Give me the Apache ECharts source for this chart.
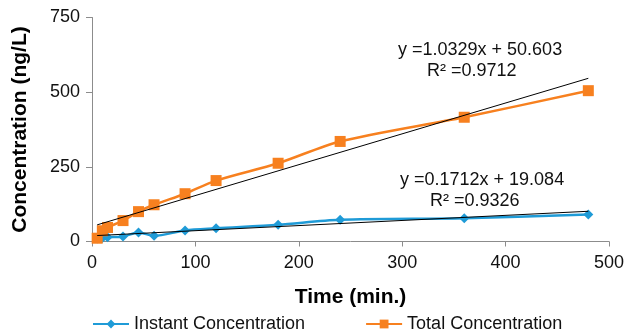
<!DOCTYPE html>
<html>
<head>
<meta charset="utf-8">
<script src="https://cdn.jsdelivr.net/npm/echarts@6/dist/echarts.min.js"></script>
<style>
  html, body { margin: 0; padding: 0; background: #fff; }
  #chart { width: 628px; height: 336px; }
</style>
</head>
<body>
<div id="chart"></div>
<script>
// time points (min.)
const times = [5, 10, 15, 30, 45, 60, 90, 120, 180, 240, 360, 480];
const instant = [10, 12, 14, 17, 30, 19, 37, 44, 56, 73, 78, 90];
const total = [11, 36, 47, 70, 100, 123, 160, 204, 262, 335, 416, 505];

// linear trendline coefficients as printed on the chart
const instantFit = { slope: 0.1712, intercept: 19.084, r2: '0.9326' };
const totalFit = { slope: 1.0329, intercept: 50.603, r2: '0.9712' };
const fitRange = [5, 480];

const yTicks = [0, 250, 500, 750];
const xTicks = [0, 100, 200, 300, 400, 500];

const fitLine = f => fitRange.map(x => [x, f.slope * x + f.intercept]);

const chart = echarts.init(document.getElementById('chart'));
const font = 'Liberation Sans, Arial, sans-serif';
const axisGray = '#8c8c8c';

chart.setOption({
  animation: false,
  textStyle: { fontFamily: font },
  grid: { left: 92, right: 19, top: 17.5, bottom: 94.5 },
  legend: {
    data: ['Instant Concentration', 'Total Concentration'],
    top: 310,
    left: 87,
    itemGap: 60,
    itemWidth: 36,
    itemHeight: 11,
    textStyle: { fontSize: 18, color: '#111', fontFamily: font }
  },
  xAxis: {
    type: 'value',
    min: 0,
    max: 500,
    interval: 100,
    name: 'Time (min.)',
    nameLocation: 'middle',
    nameGap: 45,
    nameTextStyle: { fontSize: 21, fontWeight: 'bold', color: '#000', fontFamily: font },
    axisLine: { lineStyle: { color: axisGray, width: 1 } },
    axisTick: { show: true, length: 5, lineStyle: { color: axisGray } },
    axisLabel: { fontSize: 18, color: '#111', margin: 13, formatter: v => xTicks.includes(v) ? v : '' },
    splitLine: { show: false }
  },
  yAxis: {
    type: 'value',
    min: 0,
    max: 750,
    interval: 250,
    name: 'Concentration (ng/L)',
    nameLocation: 'middle',
    nameGap: 61,
    nameTextStyle: { fontSize: 21, fontWeight: 'bold', color: '#000', fontFamily: font },
    axisLine: { show: true, lineStyle: { color: axisGray, width: 1 } },
    axisTick: { show: true, length: 6, lineStyle: { color: axisGray } },
    axisLabel: { fontSize: 18, color: '#111', margin: 12, formatter: v => yTicks.includes(v) ? v : '' },
    splitLine: { show: false }
  },
  series: [
    {
      name: 'Instant Concentration',
      type: 'line',
      smooth: 0.3,
      data: times.map((t, i) => [t, instant[i]]),
      symbol: 'diamond',
      symbolSize: 10,
      lineStyle: { color: '#1f9bd7', width: 2.5 },
      itemStyle: { color: '#1f9bd7' },
      z: 2
    },
    {
      name: 'Total Concentration',
      type: 'line',
      smooth: 0.3,
      data: times.map((t, i) => [t, total[i]]),
      symbol: 'rect',
      symbolSize: 11,
      lineStyle: { color: '#f7801f', width: 2.5 },
      itemStyle: { color: '#f7801f' },
      z: 3
    },
    {
      name: 'Instant fit',
      type: 'line',
      data: fitLine(instantFit),
      symbol: 'none',
      lineStyle: { color: '#000', width: 1 },
      silent: true,
      z: 4
    },
    {
      name: 'Total fit',
      type: 'line',
      data: fitLine(totalFit),
      symbol: 'none',
      lineStyle: { color: '#000', width: 1 },
      silent: true,
      z: 4
    }
  ],
  graphic: [
    { type: 'text', left: 398, top: 41, style: { text: 'y =' + totalFit.slope + 'x + ' + totalFit.intercept, font: '18px ' + font, fill: '#111' } },
    { type: 'text', left: 427, top: 62, style: { text: 'R² =' + totalFit.r2, font: '18px ' + font, fill: '#111' } },
    { type: 'text', left: 400, top: 171, style: { text: 'y =' + instantFit.slope + 'x + ' + instantFit.intercept, font: '18px ' + font, fill: '#111' } },
    { type: 'text', left: 430, top: 192, style: { text: 'R² =' + instantFit.r2, font: '18px ' + font, fill: '#111' } }
  ]
});
</script>
</body>
</html>
